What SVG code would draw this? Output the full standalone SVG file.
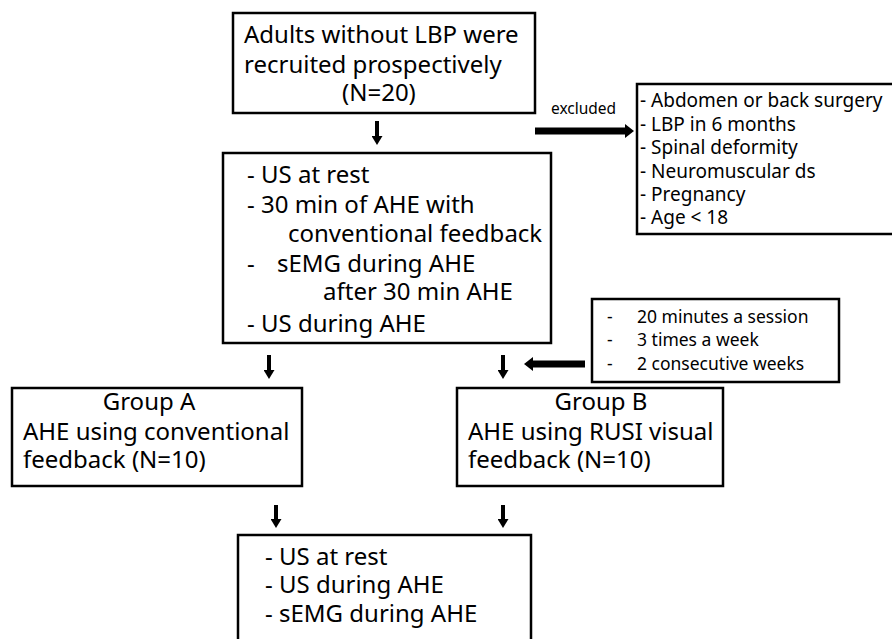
<svg xmlns="http://www.w3.org/2000/svg" width="892" height="639" viewBox="0 0 892 639">
<defs>
<style>
.box{fill:#fff;stroke:#000;stroke-width:2.5}
.t{font-family:"Noto Sans","Liberation Sans",sans-serif;font-size:24px;fill:#000}
.s{font-family:"Noto Sans","Liberation Sans",sans-serif;font-size:19px;fill:#000}
.ss{font-family:"Noto Sans","Liberation Sans",sans-serif;font-size:17.5px;fill:#000}
.xs{font-family:"Noto Sans","Liberation Sans",sans-serif;font-size:15.5px;fill:#000}
.a{stroke:#000;stroke-width:4;fill:none;marker-end:url(#ah)}
.b{stroke:#000;stroke-width:7;fill:none;marker-end:url(#bh)}
</style>
<marker id="ah" markerUnits="userSpaceOnUse" viewBox="0 0 9 11" refX="0" refY="5.5" markerWidth="9" markerHeight="11" orient="auto"><path d="M0,0 L9,5.5 L0,11 z" fill="#000"/></marker>
<marker id="bh" markerUnits="userSpaceOnUse" viewBox="0 0 9 14" refX="0" refY="7" markerWidth="9" markerHeight="14" orient="auto"><path d="M0,0 L9,7 L0,14 z" fill="#000"/></marker>
</defs>
<rect width="892" height="639" fill="#fff"/>
<g id="connectors">
<line class="a" x1="377" y1="121" x2="377" y2="136"/>
<line class="b" x1="535" y1="131" x2="625" y2="131"/>
<line class="a" x1="269" y1="355" x2="269" y2="370"/>
<line class="a" x1="503" y1="355" x2="503" y2="370"/>
<line class="b" x1="585" y1="364" x2="533" y2="364"/>
<line class="a" x1="276" y1="505" x2="276" y2="519"/>
<line class="a" x1="503" y1="505" x2="503" y2="519"/>
<text class="xs" x="551" y="114">excluded</text>
</g>
<g id="recruit">
<rect class="box" x="233" y="13" width="302" height="100"/>
<text class="t" x="244" y="43">Adults without LBP were</text>
<text class="t" x="244" y="73">recruited prospectively</text>
<text class="t" x="342" y="101">(N=20)</text>
</g>
<g id="excluded">
<rect class="box" x="637" y="84" width="270" height="150"/>
<text class="s" x="640" y="107">- Abdomen or back surgery</text>
<text class="s" x="640" y="131">- LBP in 6 months</text>
<text class="s" x="640" y="154">- Spinal deformity</text>
<text class="s" x="640" y="178">- Neuromuscular ds</text>
<text class="s" x="640" y="201">- Pregnancy</text>
<text class="s" x="640" y="224">- Age &lt; 18</text>
</g>
<g id="baseline">
<rect class="box" x="223" y="153" width="328" height="190"/>
<text class="t" x="247" y="183">- US at rest</text>
<text class="t" x="247" y="213">- 30 min of AHE with</text>
<text class="t" x="288" y="242">conventional feedback</text>
<text class="t" y="272"><tspan x="247">-</tspan><tspan x="277">sEMG during AHE</tspan></text>
<text class="t" x="323" y="300">after 30 min AHE</text>
<text class="t" x="247" y="332">- US during AHE</text>
</g>
<g id="sessions">
<rect class="box" x="592" y="299" width="247" height="83"/>
<text class="ss" y="323"><tspan x="607">-</tspan><tspan x="637">20 minutes a session</tspan></text>
<text class="ss" y="346"><tspan x="607">-</tspan><tspan x="637">3 times a week</tspan></text>
<text class="ss" y="370"><tspan x="607">-</tspan><tspan x="637">2 consecutive weeks</tspan></text>
</g>
<g id="groupA">
<rect class="box" x="12" y="388" width="290" height="98"/>
<text class="t" x="149" y="410" text-anchor="middle">Group A</text>
<text class="t" x="23" y="440">AHE using conventional</text>
<text class="t" x="23" y="468">feedback (N=10)</text>
</g>
<g id="groupB">
<rect class="box" x="457" y="388" width="266" height="98"/>
<text class="t" x="601" y="410" text-anchor="middle">Group B</text>
<text class="t" x="468" y="440">AHE using RUSI visual</text>
<text class="t" x="468" y="468">feedback (N=10)</text>
</g>
<g id="followup">
<rect class="box" x="238" y="535" width="293" height="120"/>
<text class="t" x="265" y="565">- US at rest</text>
<text class="t" x="265" y="593">- US during AHE</text>
<text class="t" x="265" y="622">- sEMG during AHE</text>
</g>
</svg>
